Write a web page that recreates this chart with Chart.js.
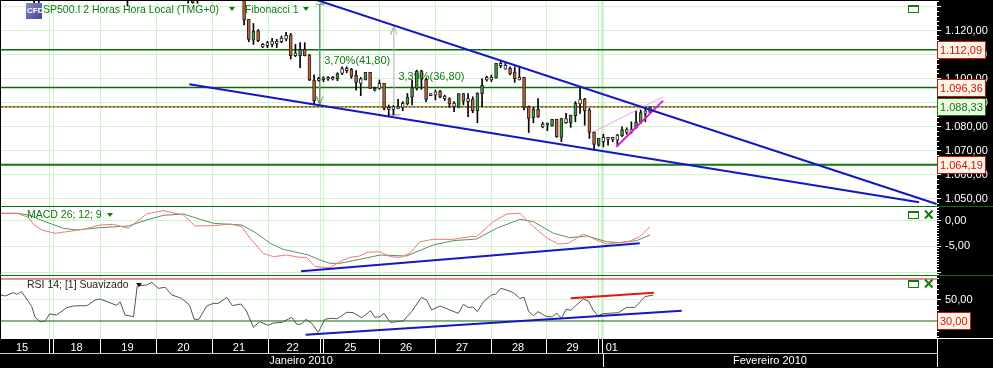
<!DOCTYPE html>
<html>
<head>
<meta charset="utf-8">
<title>SP500.I 2 Horas</title>
<script src="https://cdn.jsdelivr.net/npm/chart.js@4"></script>
<style>
  html, body { margin: 0; padding: 0; background: #000; overflow: hidden; }
  canvas { display: block; }
</style>
</head>
<body>
<canvas id="chart" width="993" height="368"></canvas>
<script>
// candles (x is the bar number, 12 bars per day)
const candleBars = [7, 8, 27, 40, 41, 42,
  52, 53, 54, 55, 56, 57, 58, 59, 60, 61,
  62, 63, 64, 65, 66, 67, 68, 69, 70, 71,
  72, 73, 74, 75, 76, 77, 78, 79, 80, 81,
  82, 83, 84, 85, 86, 87, 88, 89, 90, 91,
  92, 93, 94, 95, 96, 97, 98, 99, 100, 101,
  102, 103, 104, 105, 106, 107, 108, 109, 110, 111,
  112, 113, 114, 115, 116, 117, 118, 119, 120, 121,
  122, 123, 124, 125, 126, 127, 128, 129, 130, 131,
  132, 133, 134, 135, 136, 137, 138, 139];
const opens = [1138, 1137, 1140, 1137, 1136, 1137,
  1141, 1124.7, 1116.1, 1120, 1114.3, 1113.8, 1114.3, 1115.6, 1115.4, 1116.5,
  1118.3, 1110.7, 1109.6, 1112.2, 1109.9, 1099.5, 1099.3, 1099.6, 1099.8, 1099.8,
  1100, 1102.2, 1103.4, 1103.9, 1101.4, 1098.1, 1099.5, 1102.7, 1096, 1096,
  1098.1, 1088.1, 1087.3, 1087.7, 1088.1, 1089.5, 1092.3, 1096, 1099.9, 1099.7,
  1093, 1093.2, 1094.9, 1092.8, 1091.8, 1089.9, 1088.1, 1093.8, 1090.5, 1091.6,
  1086.7, 1093.8, 1099.5, 1099.5, 1100.3, 1105.4, 1105.7, 1104.3, 1102.8, 1099.5,
  1100.6, 1088.4, 1083.8, 1087.3, 1080, 1080.8, 1080.3, 1083.1, 1075.6, 1081.7,
  1081.7, 1084.6, 1089.5, 1091.6, 1087, 1077.8, 1072.4, 1073.8, 1074.8, 1074.8,
  1074.5, 1076.3, 1077.7, 1077.8, 1079.6, 1082.1, 1085.6, 1086];
const highs = [1141, 1142, 1143, 1140, 1139, 1140,
  1145, 1124.7, 1123, 1120.5, 1114.7, 1115.6, 1116.8, 1116.4, 1117.8, 1119.3,
  1118.9, 1114.3, 1115.1, 1115, 1110.2, 1101.6, 1100.6, 1100.9, 1100.9, 1101,
  1102.5, 1105, 1105, 1104.3, 1103.4, 1100.6, 1102.7, 1102.7, 1096.4, 1099.5,
  1098.1, 1089.1, 1088.8, 1091.4, 1090.5, 1093.9, 1099.5, 1103.6, 1103.6, 1100.2,
  1093.8, 1095.3, 1095.2, 1093.2, 1092.1, 1090.5, 1093.8, 1093.9, 1093.8, 1092.5,
  1094.2, 1100, 1101.1, 1101.6, 1106.4, 1107.4, 1106.4, 1105, 1105, 1105,
  1100.6, 1088.7, 1088.1, 1091.8, 1081.9, 1081.6, 1083.1, 1083.1, 1083.6, 1085.6,
  1084.9, 1090.5, 1096.4, 1091.9, 1087.7, 1078, 1075.2, 1076.9, 1075.6, 1075.6,
  1076.9, 1080, 1079.6, 1082.1, 1086.7, 1087, 1087.8, 1088.4];
const lows = [1131.5, 1131.6, 1130.3, 1131.4, 1131.4, 1131.4,
  1122.4, 1115.4, 1114.3, 1115.4, 1112.9, 1112.9, 1113.3, 1112.9, 1115, 1115.7,
  1108.2, 1109.2, 1104.6, 1109.5, 1099.2, 1089.5, 1099, 1098.8, 1099.3, 1099.5,
  1099.2, 1101.7, 1102.5, 1100.2, 1095.3, 1093, 1099.5, 1096, 1094.9, 1095.6,
  1087, 1084.5, 1084.9, 1087.7, 1086.7, 1089.1, 1089.1, 1095.3, 1095.6, 1090.5,
  1093, 1091.2, 1092, 1090.9, 1088.1, 1086.3, 1088.1, 1089.1, 1084.2, 1085.9,
  1081.7, 1088.4, 1099, 1098.8, 1100.3, 1104.6, 1104, 1101.6, 1098.5, 1099.5,
  1087, 1077.6, 1081.7, 1083.9, 1079.6, 1078.4, 1080.3, 1075.6, 1073.8, 1081.4,
  1079.8, 1082.1, 1085.6, 1080.7, 1075.2, 1070.3, 1072, 1071.7, 1072.4, 1073.8,
  1072, 1075.9, 1076.9, 1077.3, 1079.4, 1081.4, 1082.1, 1085.6];
const closes = [1136, 1139, 1138, 1135, 1131.7, 1132.6,
  1124.4, 1116.4, 1119.7, 1115.8, 1113.3, 1115.1, 1115.7, 1114.5, 1116.9, 1118.1,
  1109.6, 1109.6, 1112.1, 1109.6, 1099.5, 1090.9, 1100.2, 1100.4, 1100.6, 1100.6,
  1102.2, 1104.2, 1104.3, 1101, 1098.5, 1100, 1102.7, 1096, 1095.3, 1098.1,
  1087.7, 1087.3, 1088.4, 1088.4, 1089.8, 1092.4, 1096.3, 1103.2, 1103.2, 1091.4,
  1093.8, 1094.6, 1092.4, 1091.7, 1089.5, 1088.4, 1093.8, 1090.7, 1091.8, 1086.7,
  1094, 1097.3, 1100.6, 1100.6, 1106.4, 1106.4, 1104, 1102, 1099.9, 1100.6,
  1088.1, 1083.5, 1087.3, 1084.1, 1081.2, 1081.6, 1083.1, 1075.9, 1083.4, 1083.4,
  1084.9, 1089.8, 1091.6, 1086.7, 1077.7, 1072.7, 1075.2, 1075.6, 1075.6, 1075.6,
  1076.6, 1078.9, 1078.9, 1079.1, 1082.1, 1085.9, 1086.7, 1088.33];

// MACD
const macdBars = [-0.1, 3.3, 5.8, 6.8, 8.6, 11.5, 14, 17.6, 21.1, 24, 27.2, 29, 31.1, 34.7, 39, 41.5, 45.4, 49, 51.5, 53.3, 56.1, 58.3, 61.1, 64, 65.4, 67.2, 70.4, 72.5, 74.7, 76.8, 78.3, 81.1, 83.3, 85.4, 87.5, 89.7, 92.5, 96.8, 100.4, 101.8, 105.4, 108.3, 111.1, 114, 116.8, 119.3, 121.5, 124.7, 127.5, 129.7, 132.5, 134.7, 136.8, 139];
const macdValues = [1.44, 1.44, 0.66, -0.64, -1.81, -2.46, -2.14, -1.68, -0.84, -0.71, -1.49, -0.19, 1.31, 1.96, 1.11, -1.03, -0.97, -0.64, -1.16, -3.44, -6.36, -7.01, -6.69, -7.14, -7.14, -8.96, -9.15, -7.99, -7.14, -6.88, -6.17, -6.04, -7.01, -7.14, -6.36, -4.09, -3.63, -3.63, -3.11, -3.11, -0.19, 1.31, 1.44, -1.16, -3.31, -4.54, -4.41, -2.59, -3.76, -4.54, -4.28, -3.96, -3.11, -1.16];
const signalBars = [-0.1, 3.3, 5.8, 9, 13.3, 16.1, 21.1, 27.2, 31.1, 34.7, 39, 42.6, 45.4, 51.5, 54.7, 57.6, 60.4, 65.8, 68.3, 70.4, 72.5, 76.8, 81.1, 86.8, 92.5, 96.8, 101.8, 106.1, 111.1, 114, 118.3, 121.8, 125.4, 129.7, 132.5, 136.1, 139];
const signalValues = [1.44, 1.44, 1.11, -0.06, -1.49, -1.81, -1.36, -1.03, 0.14, 1.05, 1.31, 0.27, -0.51, -0.84, -2.46, -4.41, -5.58, -6.69, -7.66, -8.31, -8.31, -7.53, -6.69, -6.88, -4.74, -3.89, -3.57, -1.49, 0.27, -0.19, -2.46, -3.31, -2.98, -4.09, -4.28, -3.89, -2.79];

// RSI
const rsiBars = [-0.1, 0.8, 2.6, 3.3, 4.3, 5.8, 6.5, 7.2, 8.3, 9.3, 10.3, 11.8, 14, 15.4, 18.3, 20.1, 21.1, 24.7, 25.4, 26.5, 28.3, 29.1, 31.1, 32.2, 33.6, 35.1, 36.5, 38.6, 40.3, 41.3, 42.3, 44, 45.4, 46.5, 48.3, 49.5, 51.3, 52.4, 54, 55.3, 57.1, 58.3, 60.1, 62.2, 63.3, 64.3, 65.2, 66.5, 67.9, 69.3, 70.4, 72, 74, 75.4, 77.2, 79.1, 80, 81.1, 82, 83.3, 86.1, 87.9, 90, 91.1, 92.2, 94, 97.9, 99, 100, 101.1, 102, 103.3, 105, 105.9, 107, 108.3, 109.7, 111.1, 112, 113, 114, 115, 116.8, 118.1, 119, 120, 121, 122, 124.7, 125.8, 126.8, 127.8, 129, 132.2, 134, 135.8, 137.9, 139.7];
const rsiValues = [54.8, 53.8, 57, 55.4, 57.9, 48.4, 43.7, 33.5, 29.4, 29.7, 36.7, 35.7, 42.7, 44.3, 44.6, 50, 51, 44.9, 48.4, 35.7, 34.1, 63.3, 64.3, 66.8, 61.1, 62.1, 54.8, 51.6, 45.2, 31.6, 31.6, 44.3, 46.8, 46.8, 52.5, 44.6, 46.2, 40.5, 24, 29.4, 25.9, 28.1, 28.7, 33.5, 26.8, 27.1, 31.6, 27.8, 19.2, 31.6, 32.5, 32.2, 38.3, 37.9, 33.2, 39.8, 33.5, 34.1, 37.3, 28.7, 30, 38.9, 52.5, 50, 40.5, 44.3, 37.3, 45.9, 43, 43.3, 38.9, 48.4, 54.8, 55.4, 61.1, 59.5, 57, 51.6, 52.5, 38.9, 35.1, 38.9, 34.1, 34.1, 37.6, 32.5, 41.1, 40.2, 51, 49, 40.5, 35.1, 37, 37.9, 43, 43, 53.2, 54.8];

// horizontal levels
const resistanceLevels = [1112.09, 1096.36];
const lastPrice = 1088.33;
const supportLevel = 1064.19;
const rsiUpper = 70;
const rsiLower = 30;

// drawn trend lines
const upperLineBars = [67.55, 200.4];
const upperLinePrices = [1132.77, 1047.9];
const lowerLineBars = [40.25, 196.66];
const lowerLinePrices = [1097.7, 1048.6];
const wedgeBars = [131.8, 141.8];
const wedgePrices = [1071.75, 1090.9];
const wedgeTopBars = [127, 141.8];
const wedgeTopPrices = [1078, 1092.5];
const macdTrendBars = [64.2, 136.8];
const macdTrendValues = [-9.86, -4.41];
const rsiTrendBars = [65.2, 145.8];
const rsiTrendValues = [16.95, 39.8];
const rsiTopBars = [122, 139.8];
const rsiTopValues = [51.6, 57];

// fibonacci measures
const fibOneBars = [67.3, 69.2, 68.2, 68.2, 67.5, 68.2, 68.9];
const fibOnePrices = [1131, 1131, 1131, 1089.2, 1092.6, 1089.2, 1092.6];
const fibTwoBars = [82.7, 85.5, 84.1, 84.1, 83.4, 84.1, 84.8];
const fibTwoPrices = [1085, 1085, 1085, 1121.8, 1118.4, 1121.8, 1118.4];
const fibOneText = "3,70%(41,80)";
const fibTwoText = "3,39%(36,80)";

// axes
const dayBreaks = [10.4, 11.2, 21.3, 33.3, 45.2, 57.2, 68.3, 69.1, 81.1, 93, 105, 116.9, 127.9, 128.9];
const dayLabelBars = [4.4, 16.1, 27, 39, 50.9, 62.4, 74.75, 86.7, 98.7, 110.7, 122.4, 130.8];
const dayLabels = ["15", "18", "19", "20", "21", "22", "25", "26", "27", "28", "29", "01"];
const monthLabels = ["Janeiro 2010", "Fevereiro 2010"];
const monthCenters = [64.2, 164.7];
const priceLabels = [1120, 1110, 1100, 1090, 1080, 1070, 1060, 1050];
const macdLabels = [0, -5];
const rsiLabels = [50];

const pts = (xs, ys) => xs.map((x, i) => ({ x: x, y: ys[i] }));
const fmt = (v) => v.toLocaleString("pt-BR", { minimumFractionDigits: 2, maximumFractionDigits: 2 });
const FONT = '"Liberation Sans", Arial, sans-serif';
const X_MIN = -0.1;
const X_MAX = 200.5;

const GREEN = "#117a11";
const GRID = "#cff2cf";
const BLUE = "#1616c4";

const lineDs = (xs, ys, yAxisID, color, width, extra) => Object.assign({
  type: "line",
  data: pts(xs, ys),
  yAxisID: yAxisID,
  borderColor: color,
  borderWidth: width,
  pointRadius: 0,
  tension: 0,
  order: 1
}, extra || {});

const levelDs = (y, yAxisID, color, width, extra) =>
  lineDs([X_MIN, X_MAX], [y, y], yAxisID, color, width, Object.assign({ order: 6 }, extra || {}));

const candleFill = candleBars.map((b, i) => {
  const size = Math.abs(closes[i] - opens[i]);
  if (size < 2.1) return "#ffffff";
  return closes[i] > opens[i] ? "#3f9c3f" : "#c9622c";
});

// tags on the price axis: value, text colour, background
const priceTags = [
  { scale: "y", value: resistanceLevels[0], color: "#c81414", bg: "#fff4e4", w: 49 },
  { scale: "y", value: resistanceLevels[1], color: "#c81414", bg: "#fff4e4", w: 49 },
  { scale: "y", value: lastPrice, color: "#117a11", bg: "#ecf8e2", w: 49 },
  { scale: "y", value: supportLevel, color: "#c81414", bg: "#fff4e4", w: 49 },
  { scale: "yRsi", value: rsiLower, color: "#c81414", bg: "#fff4e4", w: 34 }
];

function dropTriangle(ctx, x, y, color) {
  ctx.fillStyle = color;
  ctx.beginPath();
  ctx.moveTo(x - 3, y - 2);
  ctx.lineTo(x + 3, y - 2);
  ctx.lineTo(x, y + 2);
  ctx.closePath();
  ctx.fill();
}

function paneButtons(ctx, y, withClose) {
  ctx.strokeStyle = "#117a11";
  ctx.lineWidth = 1;
  ctx.strokeRect(908.5, y + 0.5, 10, 7);
  ctx.fillStyle = "#117a11";
  ctx.fillRect(908, y, 11, 2);
  if (withClose) {
    ctx.lineWidth = 2;
    ctx.beginPath();
    ctx.moveTo(925, y - 0.5);
    ctx.lineTo(932.5, y + 7.5);
    ctx.moveTo(932.5, y - 0.5);
    ctx.lineTo(925, y + 7.5);
    ctx.stroke();
  }
}

const backdrop = {
  id: "backdrop",
  beforeDraw(chart) {
    const ctx = chart.ctx, a = chart.chartArea;
    ctx.save();
    ctx.fillStyle = "#000";
    ctx.fillRect(0, 0, chart.width, chart.height);
    ctx.fillStyle = "#fff";
    ctx.fillRect(a.left, a.top, a.right - a.left, a.bottom - a.top);
    ctx.restore();
  },
  beforeDatasetsDraw(chart) {
    const ctx = chart.ctx;
    const x = chart.scales.x;
    ctx.save();
    // measure texts sit under the candles
    ctx.font = "11px " + FONT;
    ctx.fillStyle = GREEN;
    ctx.textBaseline = "middle";
    ctx.textAlign = "left";
    ctx.fillText(fibOneText, x.getPixelForValue(fibOneBars[2]) + 4.5, chart.scales.y.getPixelForValue(1107.3));
    ctx.fillText(fibTwoText, x.getPixelForValue(fibTwoBars[2]) + 4.5, chart.scales.y.getPixelForValue(1100.9));
    ctx.restore();
  },
  afterDraw(chart) {
    const ctx = chart.ctx, a = chart.chartArea;
    const x = chart.scales.x;
    ctx.save();

    // pane borders run through the axis too
    ctx.fillStyle = "#0e6b0e";
    ctx.fillRect(0, Math.round(chart.scales.y.bottom), chart.width, 1);
    ctx.fillRect(0, Math.round(chart.scales.yMacd.bottom), chart.width, 1);

    // time strip lines
    ctx.fillStyle = "#fff";
    ctx.fillRect(a.right, a.bottom - 1, chart.width - a.right, 1);
    ctx.fillRect(a.right, a.bottom, 1, 28);
    ctx.fillStyle = "#cfcfcf";
    ctx.fillRect(0, 353, a.right, 1);
    ctx.fillStyle = "#fff";
    ctx.fillRect(Math.round(x.getPixelForValue(dayBreaks[13])), 354, 1, 13);

    // month row
    ctx.font = "11px " + FONT;
    ctx.fillStyle = "#fff";
    ctx.textAlign = "center";
    ctx.textBaseline = "middle";
    monthLabels.forEach((m, i) => ctx.fillText(m, x.getPixelForValue(monthCenters[i]), 361));

    // tags
    ctx.font = "11px " + FONT;
    ctx.textAlign = "left";
    priceTags.forEach((t) => {
      const yp = Math.round(chart.scales[t.scale].getPixelForValue(t.value));
      ctx.fillStyle = t.bg;
      ctx.fillRect(a.right, yp - 8, t.w, 17);
      ctx.strokeStyle = t.color;
      ctx.lineWidth = 1;
      ctx.strokeRect(a.right + 0.5, yp - 8.5, t.w - 1, 17);
      ctx.fillStyle = t.color;
      ctx.fillText(fmt(t.value), a.right + 3, yp + 0.5);
    });

    // legend row of the price pane
    const icon = ctx.createLinearGradient(26, 3, 42, 19);
    icon.addColorStop(0, "#8a8ad0");
    icon.addColorStop(1, "#44448f");
    ctx.fillStyle = icon;
    ctx.fillRect(26, 3, 16, 16);
    ctx.font = "bold 8px " + FONT;
    ctx.fillStyle = "#fff";
    ctx.fillText("CFD", 27, 11);

    ctx.font = "10.5px " + FONT;
    ctx.fillStyle = GREEN;
    ctx.fillText("SP500.I 2 Horas Hora Local (TMG+0)", 43, 10);
    dropTriangle(ctx, 232, 9, GREEN);
    ctx.fillStyle = GREEN;
    ctx.fillText("Fibonacci 1", 245, 10);
    dropTriangle(ctx, 306, 9, GREEN);

    ctx.fillStyle = GREEN;
    ctx.fillText("MACD 26; 12; 9", 27, 215);
    dropTriangle(ctx, 110, 215, GREEN);
    ctx.fillStyle = "#222";
    ctx.fillText("RSI 14; [1] Suavizado", 27, 285);
    dropTriangle(ctx, 139, 285, "#111");

    paneButtons(ctx, 5, false);
    paneButtons(ctx, 211, true);
    paneButtons(ctx, 280, true);

    ctx.restore();
  }
};

function noPadding(scale) {
  scale.paddingTop = 0;
  scale.paddingBottom = 0;
  scale.paddingLeft = 0;
  scale.paddingRight = 0;
}

function paneAxis(min, max, weight, step, labels, gridEvery, extra) {
  const isMajor = (v) => Math.abs(v / gridEvery - Math.round(v / gridEvery)) < 0.001;
  return Object.assign({
    type: "linear",
    position: "right",
    stack: "panes",
    stackWeight: weight,
    min: min,
    max: max,
    border: { display: false },
    afterFit(scale) {
      scale.width = 56;
      noPadding(scale);
    },
    grid: {
      color: (c) => (isMajor(c.tick.value) ? GRID : "rgba(0,0,0,0)"),
      tickColor: "#fff",
      tickLength: 4,
      lineWidth: 1,
      tickBorderDash: (c) => (isMajor(c.tick.value) ? [] : [2, 10])
    },
    ticks: {
      stepSize: step,
      includeBounds: false,
      autoSkip: false,
      color: "#fff",
      padding: 4,
      font: { family: FONT, size: 11 },
      callback: (v) => (labels.includes(v) ? fmt(v) : "")
    }
  }, extra || {});
}

new Chart(document.getElementById("chart"), {
  type: "bar",
  data: {
    datasets: [
      // price pane
      lineDs(upperLineBars, upperLinePrices, "y", BLUE, 2),
      lineDs(lowerLineBars, lowerLinePrices, "y", BLUE, 2),
      lineDs(wedgeBars, wedgePrices, "y", "#d81fd8", 2),
      lineDs(wedgeTopBars, wedgeTopPrices, "y", "#f0a0f0", 1),
      lineDs(fibOneBars, fibOnePrices, "y", "#6f9a6f", 1, { order: 5 }),
      lineDs(fibTwoBars, fibTwoPrices, "y", "#a8b4a8", 1, { order: 5 }),
      {
        label: "bodies",
        data: pts(candleBars, candleBars.map((b, i) => [opens[i], closes[i]])),
        yAxisID: "y",
        backgroundColor: candleFill,
        borderColor: "#222",
        borderWidth: 1,
        borderSkipped: false,
        barThickness: 3,
        grouped: false,
        order: 2
      },
      {
        label: "wicks",
        data: pts(candleBars, candleBars.map((b, i) => [lows[i], highs[i]])),
        yAxisID: "y",
        backgroundColor: "#000",
        barThickness: 1,
        grouped: false,
        order: 3
      },
      levelDs(resistanceLevels[0], "y", "#0c6c0c", 1.4),
      levelDs(resistanceLevels[1], "y", "#0c6c0c", 1.4),
      levelDs(lastPrice, "y", "#b3560f", 1.6, { borderDash: [2, 2], order: 5 }),
      levelDs(lastPrice, "y", "#1d7a1d", 1),
      levelDs(supportLevel, "y", "#0b7a0b", 2),

      // MACD pane
      lineDs(macdTrendBars, macdTrendValues, "yMacd", BLUE, 2),
      lineDs(macdBars, macdValues, "yMacd", "#f07a7a", 1, { order: 3 }),
      lineDs(signalBars, signalValues, "yMacd", "#5f8f5f", 1, { order: 4 }),

      // RSI pane
      lineDs(rsiTrendBars, rsiTrendValues, "yRsi", BLUE, 2),
      lineDs(rsiTopBars, rsiTopValues, "yRsi", "#e61414", 2),
      lineDs(rsiBars, rsiValues, "yRsi", "#555", 1, { order: 3 }),
      levelDs(rsiUpper, "yRsi", "#c02828", 1),
      levelDs(rsiLower, "yRsi", "#0c6c0c", 1)
    ]
  },
  options: {
    responsive: false,
    animation: false,
    layout: { padding: { left: 1, top: 1, right: 0, bottom: 0 } },
    plugins: { legend: { display: false }, tooltip: { enabled: false } },
    scales: {
      x: {
        type: "linear",
        min: X_MIN,
        max: X_MAX,
        offset: false,
        border: { display: false },
        afterBuildTicks(scale) {
          scale.ticks = dayBreaks.concat(dayLabelBars).map((v) => ({ value: v }));
        },
        afterFit(scale) {
          scale.height = 29;
          noPadding(scale);
        },
        grid: {
          offset: false,
          tickLength: 14,
          color: (c) => (dayBreaks.includes(c.tick.value) ? GRID : "rgba(0,0,0,0)"),
          lineWidth: (c) => (c.tick.value === dayBreaks[13] ? 3 : 1),
          tickColor: (c) => (dayBreaks.includes(c.tick.value) ? "#fff" : "rgba(0,0,0,0)"),
          tickWidth: 1
        },
        ticks: {
          autoSkip: false,
          maxRotation: 0,
          padding: -12,
          color: "#fff",
          font: { family: FONT, size: 11 },
          callback: (v) => {
            const i = dayLabelBars.indexOf(v);
            return i >= 0 ? dayLabels[i] : "";
          }
        }
      },
      y: paneAxis(1047.08, 1132.35, 205, 2, priceLabels, 10),
      yMacd: paneAxis(-10.58, 2.865, 69, 0.5, macdLabels, 5),
      yRsi: paneAxis(12.86, 73.8, 64, 5, rsiLabels, 50)
    }
  },
  plugins: [backdrop]
});
</script>
</body>
</html>
